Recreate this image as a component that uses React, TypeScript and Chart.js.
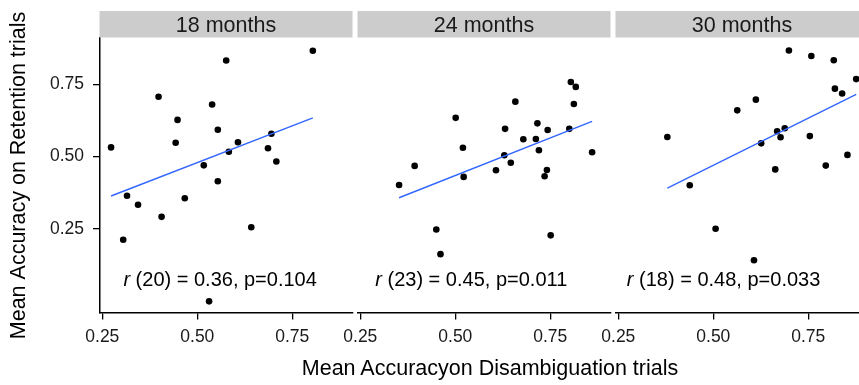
import React, { useEffect, useRef } from "react";
import { Chart, registerables } from "chart.js";

Chart.register(...registerables);

const FONT = "'Liberation Sans', Arial, Helvetica, sans-serif";

// ---- data ----
const panelTitles = ["18 months", "24 months", "30 months"];

const x18 = [0.804, 0.576, 0.398, 0.539, 0.448, 0.554, 0.695, 0.273, 0.443, 0.607, 0.686, 0.583, 0.708, 0.517, 0.554, 0.467, 0.315, 0.344, 0.406, 0.642, 0.305, 0.531];
const y18 = [0.866, 0.832, 0.707, 0.680, 0.627, 0.593, 0.579, 0.532, 0.548, 0.550, 0.529, 0.517, 0.483, 0.470, 0.415, 0.356, 0.365, 0.334, 0.292, 0.256, 0.213, 0.0];

const x24 = [0.804, 0.817, 0.658, 0.812, 0.501, 0.631, 0.716, 0.743, 0.800, 0.679, 0.712, 0.520, 0.720, 0.860, 0.629, 0.646, 0.393, 0.607, 0.741, 0.735, 0.522, 0.352, 0.450, 0.751, 0.461];
const y24 = [0.758, 0.741, 0.690, 0.682, 0.634, 0.596, 0.615, 0.592, 0.596, 0.560, 0.561, 0.531, 0.522, 0.515, 0.505, 0.479, 0.468, 0.453, 0.454, 0.432, 0.430, 0.402, 0.248, 0.228, 0.163];

const x30 = [0.699, 0.758, 0.817, 0.876, 0.820, 0.839, 0.612, 0.563, 0.379, 0.754, 0.688, 0.668, 0.677, 0.626, 0.853, 0.796, 0.663, 0.438, 0.506, 0.607];
const y30 = [0.867, 0.848, 0.833, 0.768, 0.735, 0.718, 0.697, 0.660, 0.568, 0.571, 0.598, 0.588, 0.567, 0.546, 0.506, 0.469, 0.456, 0.401, 0.251, 0.142];

// fitted regression lines (endpoints)
const fitX18 = [0.273, 0.804];
const fitY18 = [0.364, 0.634];
const fitX24 = [0.352, 0.860];
const fitY24 = [0.358, 0.622];
const fitX30 = [0.379, 0.876];
const fitY30 = [0.391, 0.715];

const statDf = ["20", "23", "18"];
const statR = ["0.36", "0.45", "0.48"];
const statP = ["0.104", "0.011", "0.033"];
const statX = [0.56, 0.542, 0.527];
const statY = 0.054;

const xTicks = [0.25, 0.5, 0.75];
const yTicks = [0.25, 0.5, 0.75];

const X_MIN = 0.2426;
const X_MAX = 0.9084;
const Y_MIN = -0.0403;
const Y_MAX = 0.910;

const panelX = [x18, x24, x30];
const panelY = [y18, y24, y30];
const panelFitX = [fitX18, fitX24, fitX30];
const panelFitY = [fitY18, fitY24, fitY30];

// ---- layout ----
const PANEL_W = 253;
const panelLefts = [99.5, 357.5, 615.5];
const canvasLefts = [0, 330, 588];
const canvasWidths = [380, 310, 300];
const CANVAS_H = 360;
const AREA_TOP = 38;
const AREA_BOTTOM = 313;
const STRIP_TOP = 11;

function decorPlugin(idx: number) {
  return {
    id: "decor" + idx,
    afterDraw(chart: any) {
      const { ctx, chartArea, scales } = chart;
      ctx.save();
      // strip
      ctx.fillStyle = "#cccccc";
      ctx.fillRect(chartArea.left, STRIP_TOP, chartArea.right - chartArea.left, chartArea.top - STRIP_TOP - 0.5);
      ctx.fillStyle = "#1a1a1a";
      ctx.font = `21.5px ${FONT}`;
      ctx.textAlign = "center";
      ctx.textBaseline = "alphabetic";
      ctx.fillText(panelTitles[idx], (chartArea.left + chartArea.right) / 2, 32.3);
      // stat annotation
      const sx = scales.x.getPixelForValue(statX[idx]);
      const sy = scales.y.getPixelForValue(statY);
      ctx.font = `italic 20px ${FONT}`;
      const w1 = ctx.measureText("r").width;
      const rest = ` (${statDf[idx]}) = ${statR[idx]}, p=${statP[idx]}`;
      ctx.font = `20px ${FONT}`;
      const w2 = ctx.measureText(rest).width;
      const start = sx - (w1 + w2) / 2;
      ctx.textAlign = "left";
      ctx.fillStyle = "#000";
      ctx.font = `italic 20px ${FONT}`;
      ctx.fillText("r", start, sy);
      ctx.font = `20px ${FONT}`;
      ctx.fillText(rest, start + w1, sy);
      ctx.restore();
    },
  };
}

function Panel({ idx }: { idx: number }) {
  const ref = useRef<HTMLCanvasElement>(null);
  useEffect(() => {
    const canvas = ref.current;
    if (!canvas) return;
    const first = idx === 0;
    const padLeft = first ? 0 : panelLefts[idx] - canvasLefts[idx];
    const padRight = canvasLefts[idx] + canvasWidths[idx] - (panelLefts[idx] + PANEL_W);
    const xs = panelX[idx];
    const ys = panelY[idx];
    const fx = panelFitX[idx];
    const fy = panelFitY[idx];
    const chart = new Chart(canvas, {
      type: "scatter",
      data: {
        datasets: [
          {
            type: "line",
            data: fx.map((x, k) => ({ x, y: fy[k] })),
            borderColor: "#3366FF",
            borderWidth: 1.4,
            pointRadius: 0,
            fill: false,
            tension: 0,
          } as any,
          {
            type: "scatter",
            data: xs.map((x, k) => ({ x, y: ys[k] })),
            backgroundColor: "#000",
            borderWidth: 0,
            pointRadius: 3.3,
            pointHoverRadius: 3.3,
          },
        ],
      },
      options: {
        animation: false,
        responsive: false,
        events: [],
        layout: { padding: { top: AREA_TOP, bottom: 0, left: padLeft, right: padRight } },
        plugins: {
          legend: { display: false },
          tooltip: { enabled: false },
          title: { display: false },
        },
        scales: {
          x: {
            type: "linear",
            position: "bottom",
            min: X_MIN,
            max: X_MAX,
            afterBuildTicks: (s: any) => {
              s.ticks = xTicks.map((v) => ({ value: v }));
            },
            afterFit: (s: any) => {
              s.height = CANVAS_H - AREA_BOTTOM;
            },
            ticks: {
              callback: (v: any) => Number(v).toFixed(2),
              font: { family: FONT, size: 17.5 },
              color: "#1a1a1a",
              padding: 7.5,
              maxRotation: 0,
              autoSkip: false,
            },
            grid: { drawOnChartArea: false, drawTicks: true, tickLength: 6.5, color: "#000", lineWidth: 1.3 },
            border: { display: true, color: "#000", width: 1.5 },
          },
          y: {
            type: "linear",
            position: "left",
            display: first,
            min: Y_MIN,
            max: Y_MAX,
            afterBuildTicks: (s: any) => {
              s.ticks = yTicks.map((v) => ({ value: v }));
            },
            afterFit: (s: any) => {
              s.width = first ? panelLefts[0] : 0;
            },
            ticks: {
              callback: (v: any) => Number(v).toFixed(2),
              font: { family: FONT, size: 17.5 },
              color: "#1a1a1a",
              padding: 9,
              autoSkip: false,
            },
            grid: { drawOnChartArea: false, drawTicks: true, tickLength: 6.5, color: "#000", lineWidth: 1.3 },
            border: { display: true, color: "#000", width: 1.5 },
            title: {
              display: true,
              text: "Mean Accuracy on Retention trials",
              font: { family: FONT, size: 21.5 },
              color: "#000",
              padding: { top: 6, bottom: 0 },
            },
          },
        },
      } as any,
      plugins: [decorPlugin(idx)],
    });
    return () => chart.destroy();
  }, [idx]);
  return (
    <canvas
      ref={ref}
      width={canvasWidths[idx]}
      height={CANVAS_H}
      style={{ position: "absolute", left: canvasLefts[idx], top: 0, width: canvasWidths[idx], height: CANVAS_H }}
    />
  );
}

export default function App() {
  return (
    <div
      style={{
        position: "absolute",
        left: 0,
        top: 0,
        width: 859,
        height: 385,
        overflow: "hidden",
        background: "#fff",
      }}
    >
      <Panel idx={0} />
      <Panel idx={1} />
      <Panel idx={2} />
      <div
        style={{
          position: "absolute",
          left: 190,
          width: 600,
          top: 358,
          textAlign: "center",
          fontFamily: FONT,
          fontSize: "21.5px",
          lineHeight: "21.5px",
          color: "#000",
          whiteSpace: "nowrap",
        }}
      >
        Mean Accuracyon Disambiguation trials
      </div>
    </div>
  );
}
